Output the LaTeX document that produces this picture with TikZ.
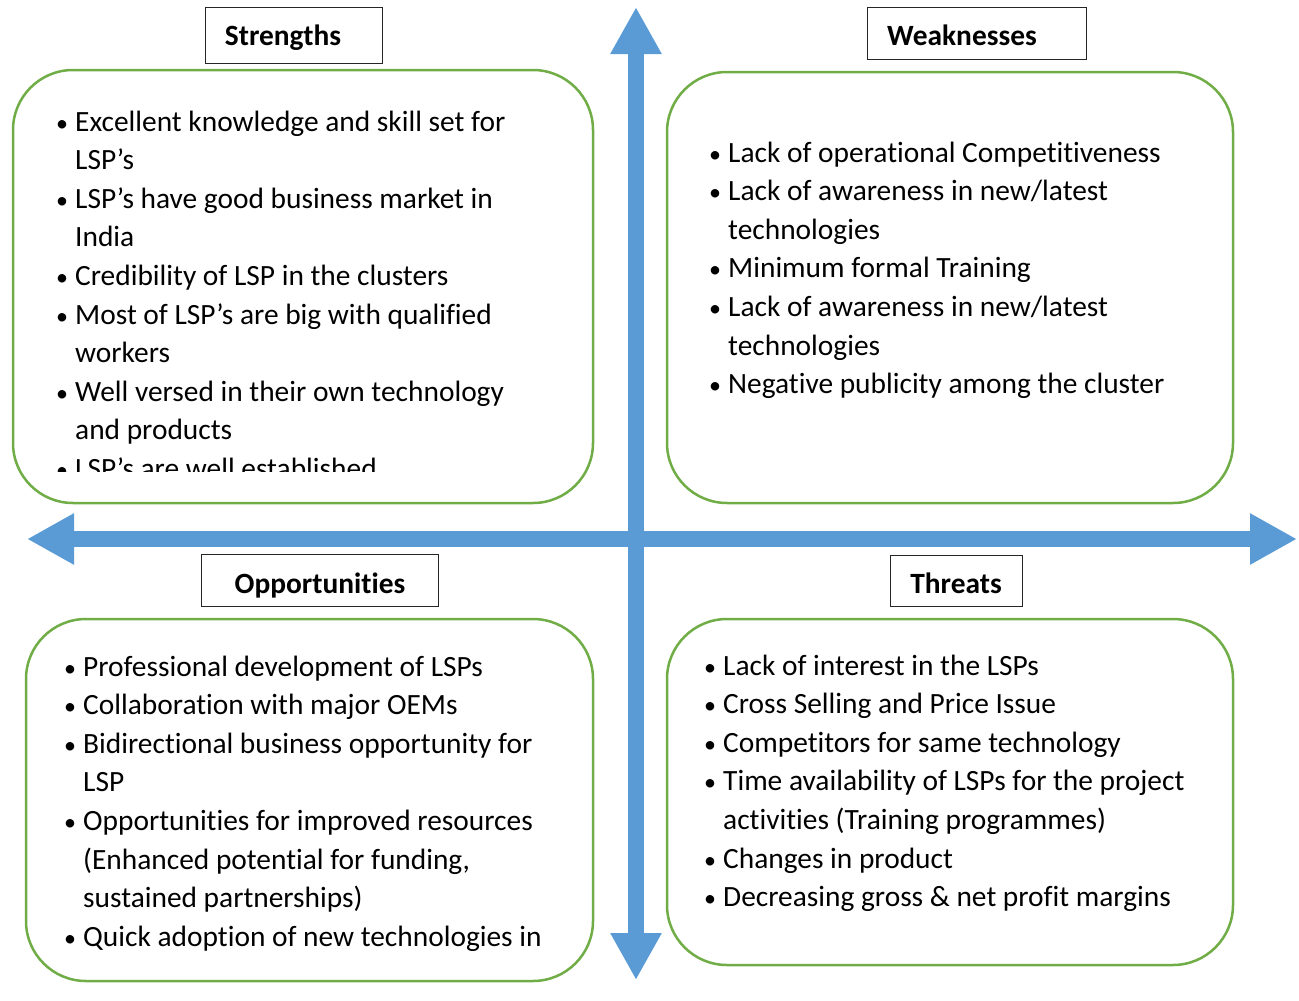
\documentclass[tikz,border=0pt]{standalone}
\usepackage{fontspec}
\setmainfont[Ligatures=NoCommon]{Carlito}
\usetikzlibrary{arrows.meta}
\definecolor{axisblue}{HTML}{5B9BD5}
\definecolor{boxgreen}{HTML}{70AD47}
\newcommand{\blt}{{\fontsize{24}{24}\selectfont\textbullet}}
\begin{document}
\begin{tikzpicture}[x=1pt,y=-1pt,
  quadbox/.style={draw=boxgreen, line width=2.5pt, rounded corners=60pt},
  labelbox/.style={draw=black!85, line width=1pt, inner sep=0pt},
  labeltext/.style={anchor=base, inner sep=0pt, font=\fontsize{29.4}{34}\selectfont\bfseries},
  itemlist/.style={anchor=base west, inner sep=0pt, font=\fontsize{29.4}{38.6}\selectfont},
  axis/.style={draw=axisblue, line width=16pt, {Triangle[width=48pt,length=47pt]}-{Triangle[width=48pt,length=47pt]}}
]
\useasboundingbox (0,0) rectangle (1299,1001);

% axes
\coordinate (vtop) at (636,7);
\coordinate (vbot) at (636,980);
\coordinate (hleft) at (27,539);
\coordinate (hright) at (1297,539);
\draw[axis] (vtop) -- (vbot);
\draw[axis] (hleft) -- (hright);

% quadrant boxes
\draw[quadbox] (13,70) rectangle (593,503);
\draw[quadbox] (667,72) rectangle (1233,503);
\draw[quadbox] (26,619) rectangle (593,981);
\draw[quadbox] (667,619) rectangle (1233,965);

% label boxes
\node[labelbox, minimum width=177pt, minimum height=56pt] (sbox) at (293.5,35) {};
\node[labeltext] (stxt) at (283,45) {Strengths};
\node[labelbox, minimum width=219pt, minimum height=52pt] (wbox) at (976.5,33) {};
\node[labeltext] (wtxt) at (962,45) {Weaknesses};
\node[labelbox, minimum width=237pt, minimum height=52pt] (obox) at (319.5,580) {};
\node[labeltext] (otxt) at (320,593) {Opportunities};
\node[labelbox, minimum width=132pt, minimum height=51pt] (tbox) at (956,580.5) {};
\node[labeltext] (ttxt) at (956,593) {Threats};

% Strengths list (clipped at the bottom)
\begin{scope}
\clip (13,70) rectangle (593,471);
\node[itemlist] (slist) at (56,131) {\begin{tabular}[t]{@{}p{19pt}@{}l@{}}
\blt & Excellent knowledge and skill set for\\
 & LSP’s\\
\blt & LSP’s have good business market in\\
 & India\\
\blt & Credibility of LSP in the clusters\\
\blt & Most of LSP’s are big with qualified\\
 & workers\\
\blt & Well versed in their own technology\\
 & and products\\
\blt & LSP’s are well established
\end{tabular}};
\end{scope}

% Weaknesses list
\node[itemlist] (wlist) at (709,162) {\begin{tabular}[t]{@{}p{19pt}@{}l@{}}
\blt & Lack of operational Competitiveness\\
\blt & Lack of awareness in new/latest\\
 & technologies\\
\blt & Minimum formal Training\\
\blt & Lack of awareness in new/latest\\
 & technologies\\
\blt & Negative publicity among the cluster
\end{tabular}};

% Opportunities list
\node[itemlist] (olist) at (64,676) {\begin{tabular}[t]{@{}p{19pt}@{}l@{}}
\blt & Professional development of LSPs\\
\blt & Collaboration with major OEMs\\
\blt & Bidirectional business opportunity for\\
 & LSP\\
\blt & Opportunities for improved resources\\
 & (Enhanced potential for funding,\\
 & sustained partnerships)\\
\blt & Quick adoption of new technologies in
\end{tabular}};

% Threats list
\node[itemlist] (tlist) at (704,675) {\begin{tabular}[t]{@{}p{19pt}@{}l@{}}
\blt & Lack of interest in the LSPs\\
\blt & Cross Selling and Price Issue\\
\blt & Competitors for same technology\\
\blt & Time availability of LSPs for the project\\
 & activities (Training programmes)\\
\blt & Changes in product\\
\blt & Decreasing gross \& net profit margins
\end{tabular}};
\end{tikzpicture}
\end{document}
